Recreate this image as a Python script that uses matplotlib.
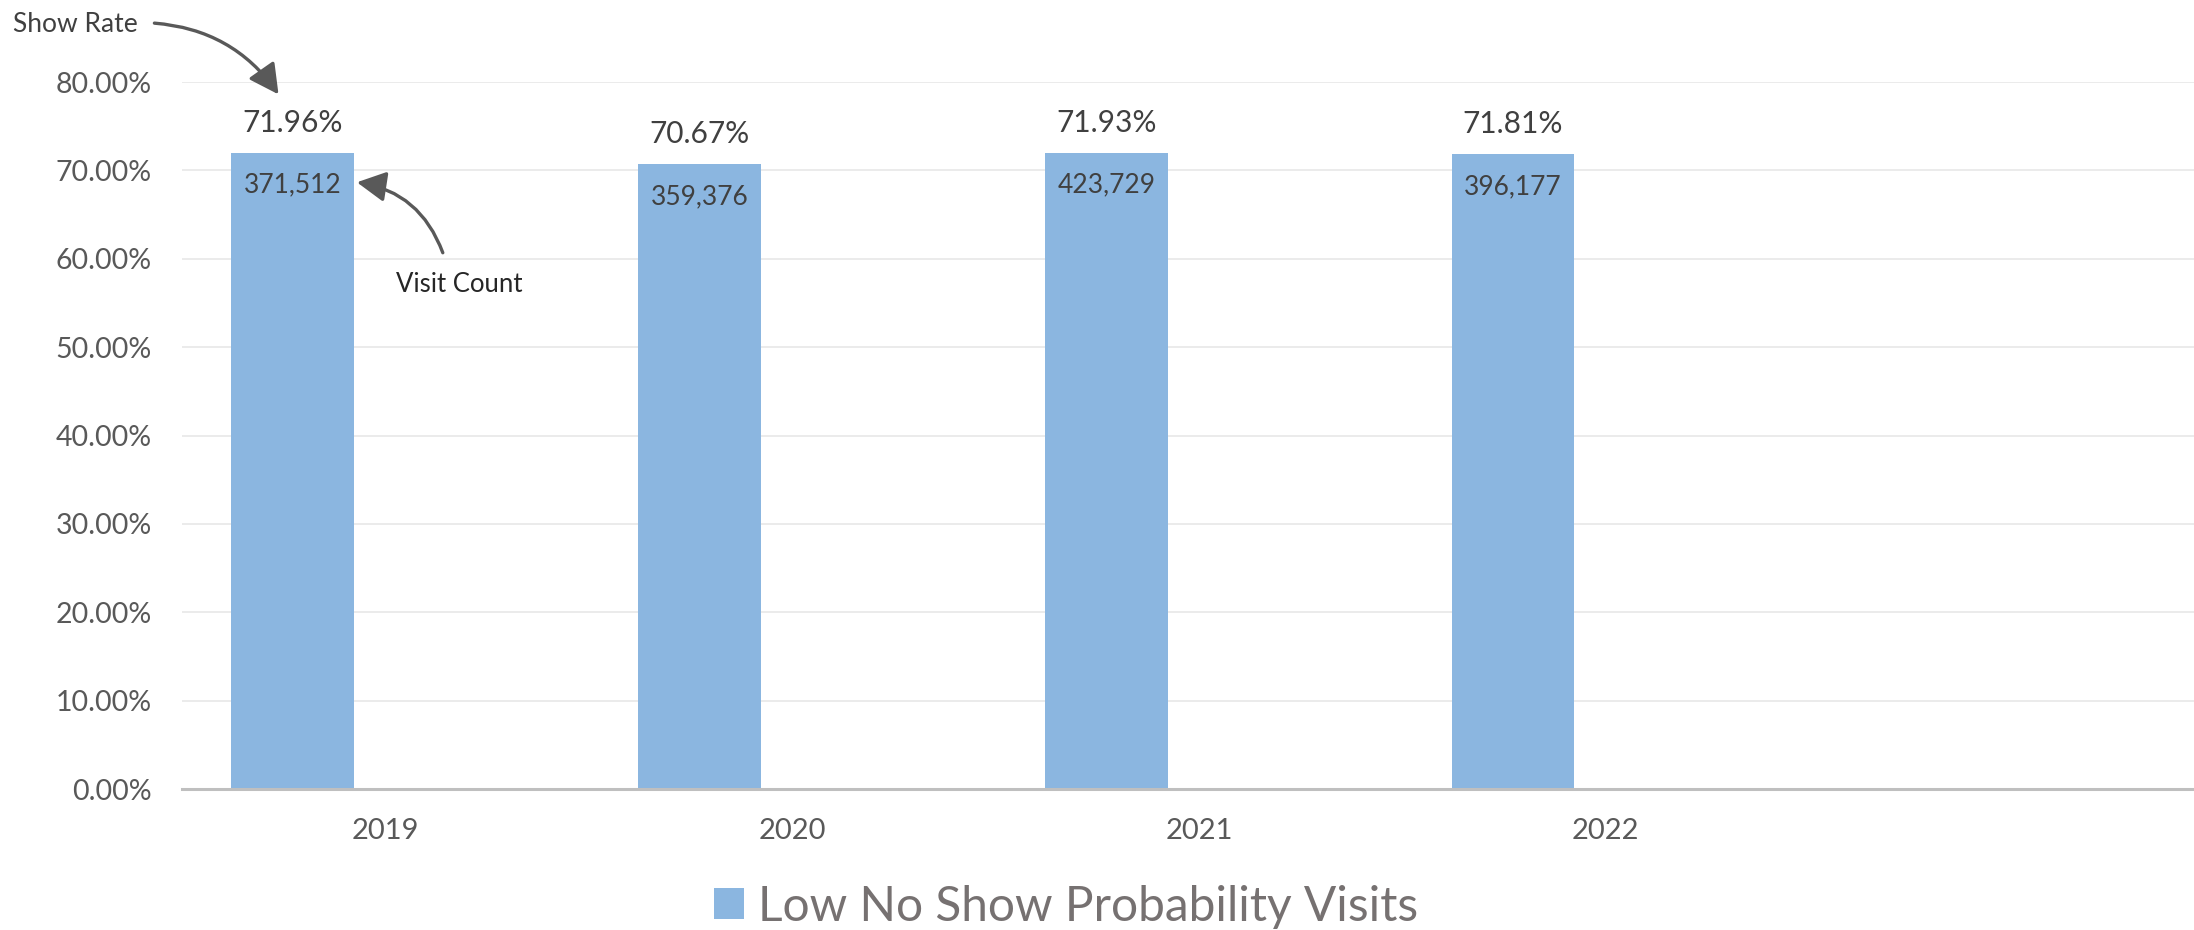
import matplotlib
matplotlib.use('Agg')
import matplotlib.pyplot as plt
import numpy as np
from matplotlib.patches import Patch

years = ['2019', '2020', '2021', '2022']
show_rate = [71.96, 70.67, 71.93, 71.81]
visit_count = [371512, 359376, 423729, 396177]
series_name = 'Low No Show Probability Visits'

plt.rcParams['font.family'] = ['Lato', 'DejaVu Sans']

bar_color = '#8BB6E0'
tick_color = '#595959'
label_color = '#404040'

fig = plt.figure(figsize=(21.94, 9.30), dpi=100)
# plot area runs a little past the right edge of the picture, as in the source
ax = fig.add_axes([0.083, 0.1516, 0.927, 0.7602])

x = np.arange(len(years))
bars = ax.bar(x - 0.228, show_rate, width=0.302, color=bar_color, zorder=2)

for b, r, c in zip(bars, show_rate, visit_count):
    cx = b.get_x() + b.get_width() / 2
    ax.annotate(f'{r:.2f}%', (cx, b.get_height()), xytext=(0, 22), textcoords='offset points',
                ha='center', va='center', fontsize=21.5, color=label_color)
    ax.annotate(f'{c:,}', (cx, b.get_height()), xytext=(0, -23), textcoords='offset points',
                ha='center', va='center', fontsize=19, color=label_color)

ax.set_xlim(-0.5, 4.5)
ax.set_ylim(0, 80)
ax.set_yticks(np.arange(0, 81, 10))
ax.set_yticklabels([f'{v:.2f}%' for v in np.arange(0, 81, 10)])
ax.set_xticks(x)
ax.set_xticklabels(years)
ax.tick_params(axis='y', length=0, pad=22, labelsize=20.5, labelcolor=tick_color)
ax.tick_params(axis='x', length=0, pad=21, labelsize=21, labelcolor=tick_color)

ax.grid(axis='y', color='#E8E8E8', linewidth=1.2, zorder=0)
for s in ['top', 'right', 'left']:
    ax.spines[s].set_visible(False)
ax.spines['bottom'].set_color('#BFBFBF')
ax.spines['bottom'].set_linewidth(2.2)
ax.spines['bottom'].set_zorder(3)

# callouts
first = bars[0]
fx = first.get_x() + first.get_width() / 2
ax.annotate('Show Rate', xy=(fx - 0.035, 78.6), xycoords='data',
            xytext=(13 / 2194, 1 - 25 / 930), textcoords='figure fraction',
            ha='left', va='center', fontsize=19, color=label_color,
            arrowprops=dict(arrowstyle='-|>,head_length=0.95,head_width=0.5', color='#595959', lw=2.4,
                            connectionstyle='angle3,angleA=0,angleB=125', shrinkA=10, shrinkB=0,
                            relpos=(1, 0.6)),
            annotation_clip=False)
ax.annotate('Visit Count', xy=(first.get_x() + first.get_width(), 68.7), xycoords='data',
            xytext=(396 / 2194, 1 - 284 / 930), textcoords='figure fraction',
            ha='left', va='center', fontsize=18.5, color='#262626',
            arrowprops=dict(arrowstyle='-|>,head_length=0.95,head_width=0.5', color='#595959', lw=2.4,
                            connectionstyle='arc3,rad=0.3', shrinkA=0, shrinkB=2,
                            relpos=(0.37, 1.75)),
            annotation_clip=False)

handles = [Patch(facecolor=bar_color, edgecolor='none')]
fig.legend(handles, [series_name], loc='center', bbox_to_anchor=(0.486, 0.025), frameon=False,
           fontsize=34.5, labelcolor='#767171', handlelength=0.62, handleheight=0.62, handletextpad=0.3)

fig.savefig('out.png', dpi=100)
